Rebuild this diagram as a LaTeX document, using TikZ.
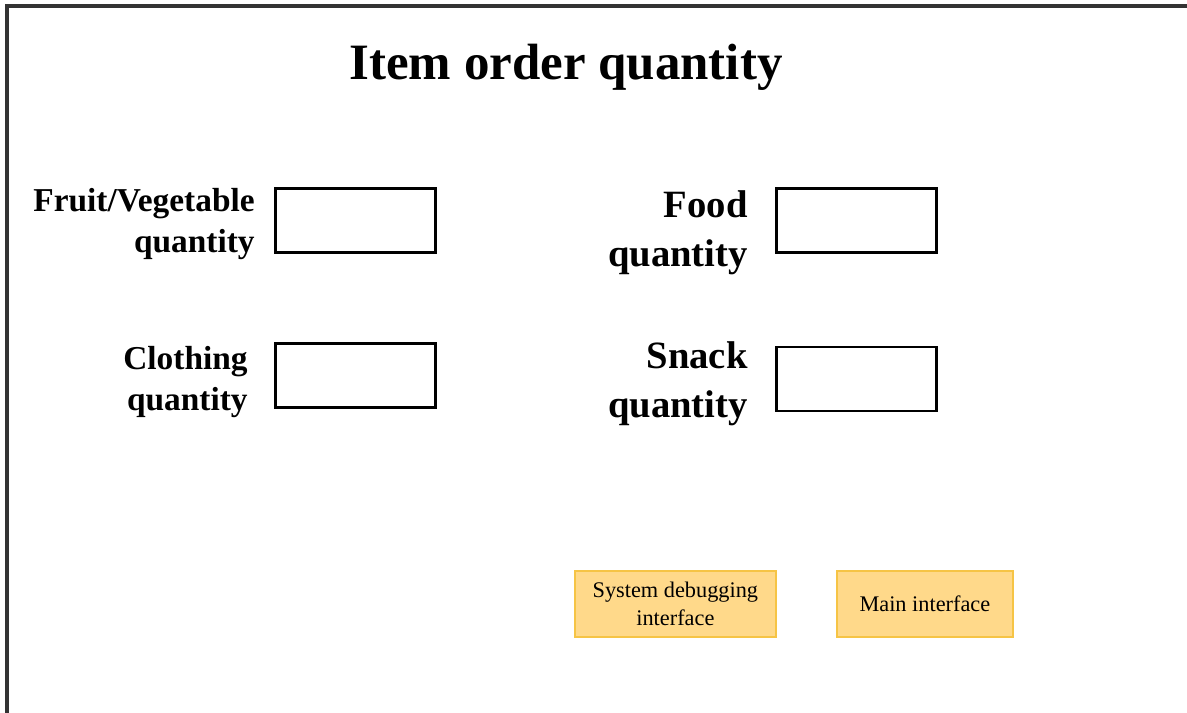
\documentclass[tikz,border=0pt]{standalone}
\usepackage{fontspec}
\setmainfont{Liberation Serif}
\definecolor{btnfill}{HTML}{FFD98A}
\definecolor{btnedge}{HTML}{F6C445}
\definecolor{framegray}{HTML}{333333}
\begin{document}
\begin{tikzpicture}[x=0.02cm,y=-0.02cm,
  inputbox/.style={draw=black,line width=1.7pt,fill=white,inner sep=0pt,outer sep=0pt,
    minimum width=160*0.02cm,minimum height=64*0.02cm},
  fieldlabel/.style={font=\bfseries\fontsize{19}{23.5}\selectfont,align=right,anchor=east,inner sep=0pt},
  biglabel/.style={font=\bfseries\fontsize{22}{28}\selectfont,align=right,anchor=east,inner sep=0pt},
  button/.style={draw=btnedge,fill=btnfill,line width=1pt,align=center,
    font=\fontsize{12.7}{15.5}\selectfont,inner sep=0pt}]
\useasboundingbox (0,0) rectangle (1187,713);
\clip (0,0) rectangle (1187,713);
% window frame, running off the right and bottom edges
\draw[framegray,line width=2pt] (7,720) -- (7,6) -- (1195,6);
% heading
\node[font=\bfseries\fontsize{29}{34}\selectfont,anchor=base,inner sep=0pt] (title) at (566,80) {Item order quantity};
% quantity fields
\node[inputbox] (fruitbox) at (355.5,220.5) {};
\node[inputbox] (foodbox) at (856.5,220.5) {};
\node[inputbox] (clothbox) at (355.5,375.5) {};
\node[inputbox] (snackbox) at (856.5,379) {};
% field labels
\node[fieldlabel] (fruitlbl) at (255,224) {Fruit/Vegetable\\quantity};
\node[biglabel] (foodlbl) at (748,233) {Food\\quantity};
\node[fieldlabel] (clothlbl) at (248,382) {Clothing\\quantity};
\node[biglabel] (snacklbl) at (748,384) {Snack\\quantity};
% navigation buttons
\node[button,minimum width=201*0.02cm,minimum height=66*0.02cm,anchor=north west] (debugbtn) at (574,570) {System debugging\\interface};
\node[button,minimum width=176*0.02cm,minimum height=66*0.02cm,anchor=north west] (mainbtn) at (836,570) {Main interface};
\end{tikzpicture}
\end{document}
